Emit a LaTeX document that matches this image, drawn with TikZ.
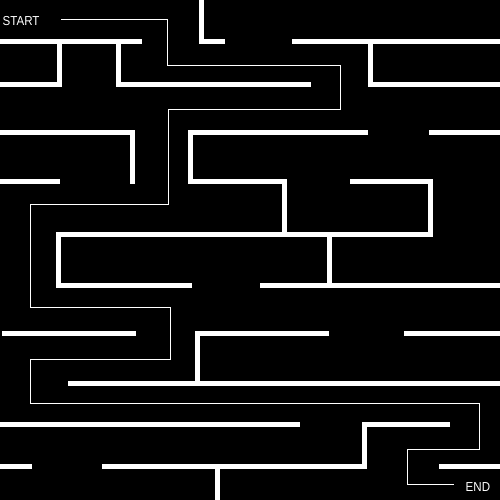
\documentclass[tikz,border=0pt]{standalone}
\usepackage{fontspec}
\setmainfont{Liberation Sans}
\begin{document}
\begin{tikzpicture}[x=1pt,y=-1pt,
  wall/.style={draw=white,line width=4.6pt,line cap=butt,line join=miter},
  route/.style={draw=white,line width=1pt,line join=miter},
  lbl/.style={text=white,inner sep=0pt,font=\fontsize{13pt}{13pt}\selectfont}]
\fill[black] (0,0) rectangle (500,500);
\useasboundingbox (0,0) rectangle (500,500);
% walls
\draw[wall] (201.7,0) -- (201.7,41.5) -- (225,41.5);
\draw[wall] (0,41.5) -- (142,41.5);
\draw[wall] (59.5,41.5) -- (59.5,84.5) -- (0,84.5);
\draw[wall] (118.5,41.5) -- (118.5,84.5) -- (311,84.5);
\draw[wall] (292,41.5) -- (500,41.5);
\draw[wall] (370.5,41.5) -- (370.5,84.5) -- (500,84.5);
\draw[wall] (0,132.3) -- (132.5,132.3) -- (132.5,184);
\draw[wall] (0,181.7) -- (60,181.7);
\draw[wall] (368,132.3) -- (190.5,132.3) -- (190.5,181.7) -- (284.5,181.7) -- (284.5,234.5);
\draw[wall] (429,132.3) -- (500,132.3);
\draw[wall] (350,181.7) -- (430.5,181.7) -- (430.5,234.5);
\draw[wall] (192,285.5) -- (58.5,285.5) -- (58.5,234.5) -- (433,234.5);
\draw[wall] (329.7,234.5) -- (329.7,285.5);
\draw[wall] (260,285.5) -- (500,285.5);
\draw[wall] (2,333.3) -- (136,333.3);
\draw[wall] (329,333.3) -- (197.5,333.3) -- (197.5,383.3);
\draw[wall] (68,383.3) -- (500,383.3);
\draw[wall] (404,333.3) -- (500,333.3);
\draw[wall] (0,424.5) -- (300,424.5);
\draw[wall] (450,424.5) -- (364.7,424.5) -- (364.7,466.7) -- (102,466.7);
\draw[wall] (0,466.7) -- (32,466.7);
\draw[wall] (217.5,466.7) -- (217.5,500);
\draw[wall] (439,466.7) -- (500,466.7);
% labels
\node[lbl,anchor=base west] (start) at (2.5,25.3) {\scalebox{0.89}[1]{START}};
\node[lbl,anchor=base west] (end) at (465.5,491.3) {\scalebox{0.89}[1]{END}};
\coordinate (p0) at (61,19.5);
\coordinate (p1) at (454,484.5);
% route
\draw[route] (p0) -- (167.5,19.5) -- (167.5,65.5) -- (340,65.5) -- (340,109.5)
  -- (168.5,109.5) -- (168.5,204.5) -- (30.5,204.5) -- (30.5,307.5) -- (170,307.5)
  -- (170,359.5) -- (30.5,359.5) -- (30.5,403.5) -- (479.5,403.5) -- (479.5,449.5)
  -- (407.5,449.5) -- (407.5,484.5) -- (p1);
\end{tikzpicture}
\end{document}
